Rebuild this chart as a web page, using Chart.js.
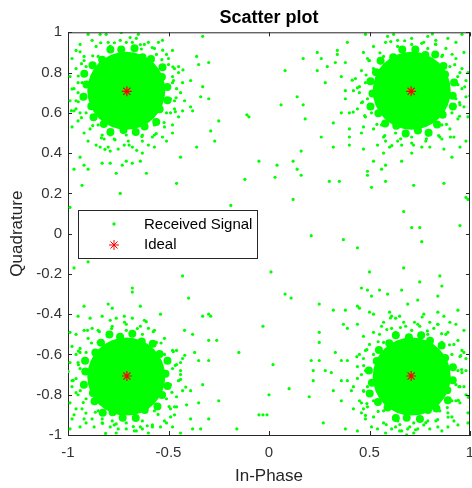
<!DOCTYPE html>
<html><head><meta charset="utf-8">
<script src="https://cdn.jsdelivr.net/npm/chart.js@4.4.0/dist/chart.umd.min.js"></script>
<style>html,body{margin:0;padding:0;background:#fff}</style>
</head><body>
<canvas id="c" width="472" height="488"></canvas>
<script>
// ---- data ----
const xTickValues = [-1, -0.5, 0, 0.5, 1];
const yTickValues = [-1, -0.8, -0.6, -0.4, -0.2, 0, 0.2, 0.4, 0.6, 0.8, 1];
const idealPoints = [[-0.7071, 0.7071], [0.7071, 0.7071], [-0.7071, -0.7071], [0.7071, -0.7071]];
// dense cluster cores
const corePoints = [[-0.71, 0.71], [0.71, 0.71], [-0.71, -0.71], [0.71, -0.71]];
// ragged edge of each dense core
const rimPoints = [
 [-0.506,0.728],[-0.533,0.778],[-0.530,0.827],[-0.587,0.868],[-0.629,0.876],[-0.669,0.921],[-0.735,0.914],[-0.789,0.915],[-0.830,0.864],[-0.878,0.836],[-0.919,0.794],[-0.908,0.741],[-0.923,0.680],[-0.884,0.633],[-0.873,0.578],[-0.822,0.544],[-0.789,0.505],[-0.724,0.515],[-0.663,0.505],[-0.619,0.532],[-0.561,0.555],[-0.544,0.618],[-0.505,0.663],
 [0.728,0.914],[0.778,0.887],[0.827,0.890],[0.868,0.833],[0.876,0.791],[0.921,0.751],[0.914,0.685],[0.915,0.631],[0.864,0.590],[0.836,0.542],[0.794,0.501],[0.741,0.512],[0.680,0.497],[0.633,0.536],[0.578,0.547],[0.544,0.598],[0.505,0.631],[0.515,0.696],[0.505,0.757],[0.532,0.801],[0.555,0.859],[0.618,0.876],[0.663,0.915],
 [-0.728,-0.914],[-0.778,-0.887],[-0.827,-0.890],[-0.868,-0.833],[-0.876,-0.791],[-0.921,-0.751],[-0.914,-0.685],[-0.915,-0.631],[-0.864,-0.590],[-0.836,-0.542],[-0.794,-0.501],[-0.741,-0.512],[-0.680,-0.497],[-0.633,-0.536],[-0.578,-0.547],[-0.544,-0.598],[-0.505,-0.631],[-0.515,-0.696],[-0.505,-0.757],[-0.532,-0.801],[-0.555,-0.859],[-0.618,-0.876],[-0.663,-0.915],
 [0.914,-0.728],[0.887,-0.778],[0.890,-0.827],[0.833,-0.868],[0.791,-0.876],[0.751,-0.921],[0.685,-0.914],[0.631,-0.915],[0.590,-0.864],[0.542,-0.836],[0.501,-0.794],[0.512,-0.741],[0.497,-0.680],[0.536,-0.633],[0.547,-0.578],[0.598,-0.544],[0.631,-0.505],[0.696,-0.515],[0.757,-0.505],[0.801,-0.532],[0.859,-0.555],[0.876,-0.618],[0.915,-0.663]
];
// halo dots just outside each core
const haloPoints = [
 [-0.86,0.93],[-0.80,0.95],[-0.74,0.96],[-0.68,0.95],[-0.62,0.94],[-0.57,0.92],[-0.50,0.84],[-0.48,0.78],[-0.47,0.66],[-0.49,0.60],[-0.52,0.53],[-0.57,0.49],[-0.63,0.46],[-0.70,0.46],[-0.77,0.47],[-0.83,0.49],[-0.89,0.52],[-0.94,0.60],[-0.96,0.66],[-0.96,0.82],[-0.92,0.88],[-0.90,0.46],[-0.86,0.44],[-0.60,0.44],[-0.53,0.48],[-0.45,0.58],[-0.45,0.80],[-0.55,0.95],[-0.93,0.75],[-0.95,0.70],[-0.88,0.96],[-0.66,0.97],[-0.51,0.89],[-0.46,0.72],[-0.72,0.44],[-0.80,0.43],
 [-0.48,0.75],[-0.52,0.82],[-0.56,0.89],[-0.635,0.917],[-0.71,0.95],[-0.79,0.93],[-0.85,0.88],[-0.91,0.83],[-0.95,0.75],[-0.93,0.67],[-0.91,0.60],[-0.85,0.54],[-0.79,0.49],[-0.71,0.49],[-0.63,0.49],[-0.57,0.54],[-0.51,0.60],[-0.49,0.67],[-0.47,0.82],[-0.60,0.95],[-0.92,0.86],[-0.96,0.62],[-0.82,0.47],[-0.58,0.48],[-0.47,0.62],
 [-0.475,0.760],[-0.478,0.828],[-0.533,0.864],[-0.529,0.911],[-0.581,0.924],[-0.640,0.939],[-0.691,0.974],[-0.769,0.948],[-0.837,0.948],[-0.877,0.883],[-0.933,0.844],[-0.949,0.783],[-0.980,0.719],[-0.949,0.655],[-0.933,0.576],[-0.877,0.537],[-0.834,0.476],[-0.766,0.466],[-0.696,0.440],[-0.632,0.483],[-0.561,0.497],[-0.522,0.552],[-0.466,0.606],[-0.462,0.675],[-0.735,0.999],[-0.983,0.611],[-0.658,0.414],[-0.428,0.813],[-0.940,0.903],[-0.816,0.419],
 [0.52,0.93],[0.58,0.95],[0.64,0.96],[0.71,0.97],[0.77,0.95],[0.83,0.94],[0.88,0.92],[0.93,0.87],[0.95,0.80],[0.96,0.72],[0.95,0.64],[0.94,0.57],[0.90,0.52],[0.85,0.48],[0.78,0.46],[0.71,0.45],[0.64,0.46],[0.57,0.48],[0.52,0.52],[0.48,0.58],[0.46,0.65],[0.45,0.73],[0.46,0.81],[0.49,0.87],[0.44,0.62],[0.47,0.90],[0.60,0.43],[0.76,0.43],[0.92,0.48],[0.98,0.76],[0.62,0.99],[0.79,0.98],[0.97,0.90],[0.43,0.77],
 [0.94,0.74],[0.90,0.83],[0.86,0.88],[0.79,0.92],[0.71,0.94],[0.64,0.93],[0.57,0.88],[0.52,0.82],[0.48,0.75],[0.49,0.67],[0.51,0.60],[0.56,0.54],[0.63,0.50],[0.71,0.48],[0.79,0.49],[0.86,0.54],[0.91,0.60],[0.93,0.67],[0.96,0.82],[0.83,0.96],[0.50,0.86],[0.45,0.70],[0.58,0.46],[0.86,0.47],[0.97,0.63],
 [0.760,0.945],[0.828,0.942],[0.864,0.887],[0.911,0.891],[0.924,0.839],[0.939,0.780],[0.974,0.729],[0.948,0.651],[0.948,0.583],[0.883,0.543],[0.844,0.487],[0.783,0.471],[0.719,0.440],[0.655,0.471],[0.576,0.487],[0.537,0.543],[0.476,0.586],[0.466,0.654],[0.440,0.724],[0.483,0.788],[0.497,0.859],[0.552,0.898],[0.606,0.954],[0.675,0.958],[0.999,0.685],[0.611,0.437],[0.414,0.762],[0.813,0.992],[0.903,0.480],[0.419,0.604],
 [-0.52,-0.93],[-0.58,-0.95],[-0.64,-0.96],[-0.71,-0.97],[-0.77,-0.95],[-0.83,-0.94],[-0.88,-0.92],[-0.93,-0.87],[-0.95,-0.80],[-0.96,-0.72],[-0.95,-0.64],[-0.94,-0.57],[-0.90,-0.52],[-0.85,-0.48],[-0.78,-0.46],[-0.71,-0.45],[-0.64,-0.46],[-0.57,-0.48],[-0.52,-0.52],[-0.48,-0.58],[-0.46,-0.65],[-0.45,-0.73],[-0.46,-0.81],[-0.49,-0.87],[-0.44,-0.70],[-0.47,-0.90],[-0.60,-0.99],[-0.76,-0.99],[-0.92,-0.48],[-0.98,-0.76],[-0.62,-0.43],[-0.79,-0.43],[-0.97,-0.90],[-0.43,-0.62],
 [-0.48,-0.67],[-0.52,-0.60],[-0.56,-0.54],[-0.63,-0.50],[-0.71,-0.48],[-0.79,-0.49],[-0.85,-0.54],[-0.91,-0.59],[-0.94,-0.67],[-0.93,-0.75],[-0.91,-0.82],[-0.85,-0.88],[-0.78,-0.93],[-0.71,-0.94],[-0.63,-0.93],[-0.57,-0.88],[-0.51,-0.82],[-0.49,-0.75],[-0.46,-0.58],[-0.60,-0.47],[-0.88,-0.47],[-0.96,-0.60],[-0.92,-0.92],[-0.66,-0.98],[-0.47,-0.86],
 [-0.760,-0.945],[-0.828,-0.942],[-0.864,-0.887],[-0.911,-0.891],[-0.924,-0.839],[-0.939,-0.780],[-0.974,-0.729],[-0.948,-0.651],[-0.948,-0.583],[-0.883,-0.543],[-0.844,-0.487],[-0.783,-0.471],[-0.719,-0.440],[-0.655,-0.471],[-0.576,-0.487],[-0.537,-0.543],[-0.476,-0.586],[-0.466,-0.654],[-0.440,-0.724],[-0.483,-0.788],[-0.497,-0.859],[-0.552,-0.898],[-0.606,-0.954],[-0.675,-0.958],[-0.999,-0.685],[-0.611,-0.437],[-0.414,-0.762],[-0.813,-0.992],[-0.903,-0.480],[-0.419,-0.604],
 [0.47,-0.62],[0.46,-0.70],[0.47,-0.78],[0.49,-0.86],[0.52,-0.91],[0.57,-0.94],[0.63,-0.96],[0.70,-0.96],[0.77,-0.95],[0.83,-0.93],[0.89,-0.89],[0.93,-0.83],[0.95,-0.76],[0.96,-0.69],[0.95,-0.61],[0.92,-0.55],[0.88,-0.50],[0.82,-0.47],[0.75,-0.46],[0.68,-0.46],[0.61,-0.47],[0.55,-0.50],[0.50,-0.55],[0.44,-0.66],[0.45,-0.83],[0.58,-0.99],[0.72,-0.99],[0.86,-0.98],[0.98,-0.80],[0.98,-0.62],[0.93,-0.45],[0.63,-0.42],[0.42,-0.76],
 [0.94,-0.68],[0.91,-0.60],[0.86,-0.54],[0.79,-0.50],[0.71,-0.48],[0.63,-0.49],[0.57,-0.54],[0.52,-0.60],[0.48,-0.68],[0.49,-0.76],[0.52,-0.83],[0.57,-0.88],[0.64,-0.93],[0.72,-0.94],[0.79,-0.93],[0.85,-0.88],[0.91,-0.83],[0.93,-0.75],[0.96,-0.58],[0.84,-0.45],[0.56,-0.46],[0.45,-0.60],[0.46,-0.89],[0.66,-0.98],[0.92,-0.93],
 [0.945,-0.760],[0.942,-0.828],[0.887,-0.864],[0.891,-0.911],[0.839,-0.924],[0.780,-0.939],[0.729,-0.974],[0.651,-0.948],[0.583,-0.948],[0.543,-0.883],[0.487,-0.844],[0.471,-0.783],[0.440,-0.719],[0.471,-0.655],[0.487,-0.576],[0.543,-0.537],[0.586,-0.476],[0.654,-0.466],[0.724,-0.440],[0.788,-0.483],[0.859,-0.497],[0.898,-0.552],[0.954,-0.606],[0.958,-0.675],[0.685,-0.999],[0.437,-0.611],[0.762,-0.414],[0.992,-0.813],[0.480,-0.903],[0.604,-0.419]
];
// scattered received samples away from the cores
const scatterPoints = [
 [-0.90,0.99],[-0.84,0.99],[-0.81,0.99],[-0.65,0.99],[-0.53,0.96],[-0.33,0.98],[-0.94,0.94],[-0.96,0.91],[-0.98,0.87],[-0.99,0.78],[-0.97,0.72],[-0.99,0.66],[-0.97,0.61],[-0.98,0.53],[-0.95,0.56],[-0.92,0.50],[-0.94,0.38],[-0.84,0.43],[-0.79,0.41],[-0.75,0.42],[-0.68,0.43],[-0.63,0.40],[-0.57,0.43],[-0.51,0.46],[-0.48,0.50],[-0.44,0.38],[-0.36,0.43],[-0.48,0.91],[-0.50,0.87],[-0.45,0.83],[-0.43,0.75],[-0.39,0.76],[-0.44,0.70],[-0.42,0.66],[-0.43,0.61],[-0.39,0.63],[-0.38,0.61],[-0.34,0.68],[-0.30,0.67],[-0.33,0.73],[-0.35,0.84],[-0.36,0.88],[-0.30,0.85],[-0.25,0.56],[-0.29,0.51],[-0.27,0.46],[-0.48,0.54],
 [0.48,0.99],[0.39,0.95],[0.24,0.90],[0.26,0.87],[0.17,0.87],[0.34,0.91],[0.34,0.89],[0.33,0.85],[0.38,0.85],[0.29,0.83],[0.08,0.81],[0.24,0.81],[0.36,0.78],[0.28,0.75],[0.38,0.71],[0.42,0.71],[0.14,0.68],[0.06,0.64],[0.17,0.64],[0.38,0.67],[0.36,0.60],[0.40,0.60],[-0.11,0.59],[-0.10,0.58],[0.18,0.57],[0.32,0.55],[0.40,0.52],[0.47,0.53],[0.26,0.48],[0.40,0.48],[0.46,0.50],[0.32,0.43],[0.40,0.44],[0.16,0.41],[0.47,0.42],[0.54,0.44],[0.57,0.40],[0.66,0.44],[0.71,0.40],[0.80,0.43],[0.87,0.42],[0.95,0.43],[0.98,0.46],[0.96,0.99],[0.89,0.97],[0.93,0.95],[0.59,0.98],[0.99,0.80],[0.98,0.68],[0.99,0.58],
 [-0.99,0.13],[-0.97,0.32],[-0.92,0.34],[-0.90,0.32],[-0.93,0.24],[-0.83,0.35],[-0.79,0.35],[-0.73,0.34],[-0.71,0.36],[-0.68,0.35],[-0.64,0.36],[-0.76,0.30],[-0.61,0.30],[-0.74,0.20],[-0.46,0.25],[-0.97,-0.17],[-0.90,-0.14],[-0.43,-0.21],[-0.40,-0.32],[-0.68,-0.27],[-0.68,-0.29],[-0.80,-0.35],[-0.78,-0.37],[-0.92,-0.36],[-0.64,-0.36],[-0.54,-0.40],[-0.33,-0.41],[-0.30,-0.40],[-0.29,-0.41],[-0.95,-0.41],[-0.89,-0.42],[-0.83,-0.41],[-0.76,-0.42],[-0.72,-0.41],[-0.68,-0.42],[-0.19,0.14],
 [-0.12,0.27],[-0.05,0.36],[0.04,0.34],[0.12,0.36],[0.03,0.28],[0.14,0.32],[0.16,0.29],[0.12,0.17],[0.30,0.26],[0.35,0.26],[0.49,0.31],[0.49,0.29],[0.52,0.36],[0.56,0.32],[0.58,0.34],[0.66,0.36],[0.51,0.23],[0.58,0.26],[0.72,0.24],[0.87,0.25],[0.91,0.38],[0.98,0.18],[0.99,0.17],[0.67,0.11],[0.71,0.03],[0.75,0.03],[0.76,-0.04],[0.95,0.04],[0.21,-0.01],[0.37,-0.03],[0.44,-0.07],[0.01,-0.19],[0.50,-0.19],[0.67,-0.17],[0.85,-0.21],[0.75,-0.24],[0.86,-0.26],[0.84,-0.31],[0.08,-0.30],[0.11,-0.32],[0.46,-0.27],[0.49,-0.28],[0.51,-0.31],[0.55,-0.28],[0.59,-0.30],[0.66,-0.28],[0.69,-0.35],[0.74,-0.33],[0.25,-0.35],[0.32,-0.38],[0.38,-0.38],[0.44,-0.36],[0.45,-0.37],[0.50,-0.39],[0.52,-0.40],[0.60,-0.39],[0.61,-0.41],[0.65,-0.41],[0.77,-0.40],[0.84,-0.39],[0.87,-0.41],[0.94,-0.38],
 [-0.99,-0.49],[-0.96,-0.50],[-0.98,-0.56],[-0.94,-0.59],[-0.99,-0.64],[-0.98,-0.73],[-0.96,-0.79],[-0.99,-0.84],[-0.96,-0.87],[-0.98,-0.92],[-0.99,-0.97],[-0.94,-0.96],[-0.91,-0.94],[-0.87,-0.96],[-0.83,-0.92],[-0.79,-0.96],[-0.75,-0.97],[-0.67,-0.98],[-0.63,-0.97],[-0.58,-0.96],[-0.54,-0.96],[-0.51,-0.94],[-0.48,-0.96],[-0.44,-0.99],[-0.49,-0.91],[-0.46,-0.86],[-0.43,-0.78],[-0.39,-0.78],[-0.44,-0.68],[-0.44,-0.64],[-0.42,-0.48],[-0.38,-0.50],[-0.30,-0.53],[-0.26,-0.53],[-0.37,-0.59],[-0.35,-0.63],[-0.30,-0.63],[-0.33,-0.75],[-0.41,-0.85],[-0.35,-0.84],[-0.25,-0.83],[-0.39,-0.92],[-0.30,-0.92],[-0.38,-0.97],[-0.34,-0.97],[-0.16,-0.97],[-0.15,-0.59],
 [-0.03,-0.46],[0.02,-0.65],[0.10,-0.77],[0.00,-0.80],[-0.05,-0.90],[-0.03,-0.90],[-0.01,-0.90],[0.20,-0.81],[0.25,-0.49],[0.25,-0.54],[0.21,-0.63],[0.25,-0.63],[0.22,-0.68],[0.22,-0.73],[0.28,-0.68],[0.31,-0.69],[0.33,-0.59],[0.36,-0.63],[0.39,-0.63],[0.36,-0.73],[0.39,-0.73],[0.32,-0.78],[0.36,-0.83],[0.27,-0.94],[0.38,-0.97],[0.44,-0.98],[0.41,-0.78],[0.42,-0.87],[0.37,-0.45],[0.39,-0.47],[0.44,-0.45],[0.47,-0.51],[0.48,-0.58],[0.46,-0.84],[0.47,-0.87],[0.48,-0.92],[0.51,-0.96],[0.54,-0.97],[0.61,-0.97],[0.65,-0.98],[0.69,-0.97],[0.74,-0.97],[0.80,-0.97],[0.84,-0.96],[0.89,-0.96],[0.94,-0.95],[0.99,-0.94],[0.97,-0.59],[0.98,-0.68],[0.97,-0.76],[0.95,-0.84],[0.99,-0.89],[0.91,-0.91],[0.94,-0.53],[0.97,-0.48],[0.89,-0.49],[0.80,-0.44],[0.84,-0.45],[0.90,-0.44],[0.74,-0.45],[0.67,-0.44],[0.57,-0.44],[0.52,-0.49]
];
const legendLabels = ['Received Signal', 'Ideal'];

// ---- styling ----
const FONT = "'Liberation Sans', Arial, sans-serif";
const GREEN = '#00ff00';
const RED = '#ff0000';
const AXIS = '#262626';
const toXY = a => a.map(p => ({x: p[0], y: p[1]}));
const fmt = v => Math.abs(v) < 1e-9 ? '0' : String(parseFloat(Number(v).toFixed(1)));

const frame = {
  id: 'frame',
  afterDraw(chart) {
    const ctx = chart.ctx, a = chart.chartArea;
    const xs = chart.scales.x, ys = chart.scales.y;
    ctx.save();
    ctx.strokeStyle = AXIS; ctx.lineWidth = 1;
    ctx.beginPath();
    ctx.moveTo(a.left + 0.5, a.top + 0.5); ctx.lineTo(a.right - 0.5, a.top + 0.5); ctx.lineTo(a.right - 0.5, a.bottom);
    const L = 4;
    xTickValues.forEach(v => {
      const px = Math.round(xs.getPixelForValue(v)) + 0.5;
      ctx.moveTo(px, a.bottom); ctx.lineTo(px, a.bottom - L);
      ctx.moveTo(px, a.top); ctx.lineTo(px, a.top + L);
    });
    yTickValues.forEach(v => {
      const py = Math.round(ys.getPixelForValue(v)) + 0.5;
      ctx.moveTo(a.left, py); ctx.lineTo(a.left + L, py);
      ctx.moveTo(a.right, py); ctx.lineTo(a.right - L, py);
    });
    ctx.stroke();
    // legend box
    const bx = 78.5, by = 210.5, bw = 179, bh = 48;
    ctx.fillStyle = '#fff'; ctx.fillRect(bx, by, bw, bh);
    ctx.strokeStyle = AXIS; ctx.strokeRect(bx, by, bw, bh);
    ctx.fillStyle = GREEN;
    ctx.beginPath(); ctx.arc(114, 224, 1.7, 0, Math.PI * 2); ctx.fill();
    ctx.strokeStyle = RED; ctx.fillStyle = RED;
    Chart.helpers.drawPoint(ctx, {pointStyle: 'star', radius: 5, borderWidth: 1.2, rotation: 0}, 114, 245);
    ctx.fillStyle = '#000'; ctx.font = '15px ' + FONT; ctx.textBaseline = 'middle'; ctx.textAlign = 'left';
    ctx.fillText(legendLabels[0], 144, 225);
    ctx.fillText(legendLabels[1], 144, 245);
    ctx.restore();
  }
};

new Chart(document.getElementById('c'), {
  type: 'scatter',
  data: {
    datasets: [
      {label: legendLabels[1], data: toXY(idealPoints), pointStyle: 'star', pointRadius: 5, borderColor: RED, backgroundColor: RED, borderWidth: 1.2},
      {label: legendLabels[0], data: toXY(scatterPoints.concat(haloPoints)), pointRadius: 1.6, backgroundColor: GREEN, borderWidth: 0},
      {label: 'rim', data: toXY(rimPoints), pointRadius: 4, backgroundColor: GREEN, borderWidth: 0},
      {label: 'core', data: toXY(corePoints), pointRadius: 39, backgroundColor: GREEN, borderWidth: 0}
    ]
  },
  options: {
    responsive: false, animation: false, events: [],
    layout: {padding: 0, autoPadding: false},
    plugins: {
      legend: {display: false}, tooltip: {enabled: false},
      title: {display: true, text: 'Scatter plot', fullSize: false, color: '#000',
        font: {family: FONT, size: 18, weight: 'bold'}, padding: {top: 7, bottom: 3.7}}
    },
    scales: {
      x: {
        type: 'linear', min: -1, max: 1,
        ticks: {stepSize: 0.5, color: '#333', font: {family: FONT, size: 15}, padding: 9, callback: fmt},
        grid: {display: false, drawTicks: false},
        border: {display: true, color: AXIS, width: 1},
        title: {display: true, text: 'In-Phase', color: AXIS, font: {family: FONT, size: 17}, padding: {top: 0, bottom: 1}},
        afterFit(s) { s.height = 53; s.paddingLeft = 0; s.paddingRight = 2; }
      },
      y: {
        type: 'linear', min: -1, max: 1,
        ticks: {stepSize: 0.2, color: '#333', font: {family: FONT, size: 15}, padding: 6, callback: fmt},
        grid: {display: false, drawTicks: false},
        border: {display: true, color: AXIS, width: 1},
        title: {display: true, text: 'Quadrature', color: AXIS, font: {family: FONT, size: 17}, padding: {top: 7, bottom: 0}},
        afterFit(s) { s.width = 68; s.paddingTop = 0; s.paddingBottom = 0; }
      }
    }
  },
  plugins: [frame]
});
</script>
</body></html>
